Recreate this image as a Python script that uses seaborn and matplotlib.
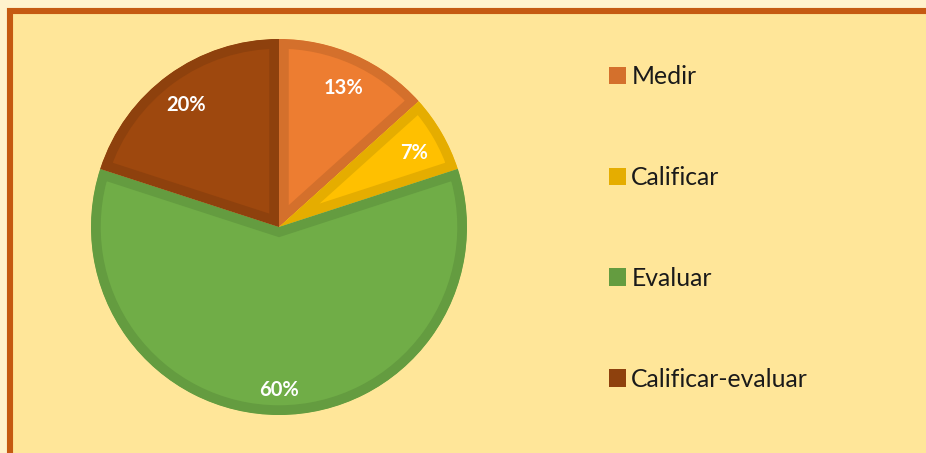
import matplotlib.pyplot as plt
import seaborn as sns
from matplotlib.patches import Patch, Rectangle

# datos
categorias = ['Medir', 'Calificar', 'Evaluar', 'Calificar-evaluar']
conteos = [2, 1, 9, 3]
colores = ['#ED7D31', '#FFC000', '#70AD47', '#9E480E']
bordes = ['#D4702C', '#E5AD00', '#649C40', '#8E410D']

sns.set_style("white")
plt.rcParams['font.family'] = ['Lato', 'DejaVu Sans']

fig = plt.figure(figsize=(9.26, 4.53), dpi=100)
fig.patch.set_facecolor('#FFF2CC')

# marco del gráfico
marco = Rectangle((10 / 926, -0.2), 1.2, 1 - 11 / 453 + 0.2,
                  transform=fig.transFigure, facecolor='#FFE699',
                  edgecolor='#C55A11', linewidth=4.4, zorder=-5)
fig.patches.append(marco)

ax = fig.add_axes([91 / 926, 38 / 453, 376 / 926, 376 / 453])
ax.set_facecolor('none')
ax.set_zorder(2)

wedges, textos, autotextos = ax.pie(
    conteos, colors=colores, startangle=90, counterclock=False,
    autopct='%1.0f%%', pctdistance=0.84,
    wedgeprops=dict(linewidth=14, joinstyle='miter'),
    textprops=dict(color='white', fontsize=14.5, fontweight='bold'))

# borde interior más oscuro
for w, b in zip(wedges, bordes):
    w.set_edgecolor(b)
    w.set_clip_on(True)
    w.set_clip_path(w)

# etiquetas un poco más abajo, como en el original
for t in autotextos:
    x, y = t.get_position()
    t.set_position((x - 0.01 if x > 0.5 else x, y - 0.028))

ax.set_xlim(-1, 1)
ax.set_ylim(-1, 1)
ax.set_aspect('equal')
ax.axis('off')

handles = [Patch(facecolor=b, edgecolor='none') for b in bordes]
leg = fig.legend(handles, categorias, loc='upper left',
                 bbox_to_anchor=(609 / 926, 1 - 65 / 453), frameon=False,
                 fontsize=17.8, handlelength=0.7, handleheight=0.7,
                 handletextpad=0.2, labelspacing=3.15, borderpad=0,
                 borderaxespad=0)
for t in leg.get_texts():
    t.set_color('#1A1A1A')

fig.savefig('out.png', dpi=100, facecolor=fig.get_facecolor())
plt.close(fig)
